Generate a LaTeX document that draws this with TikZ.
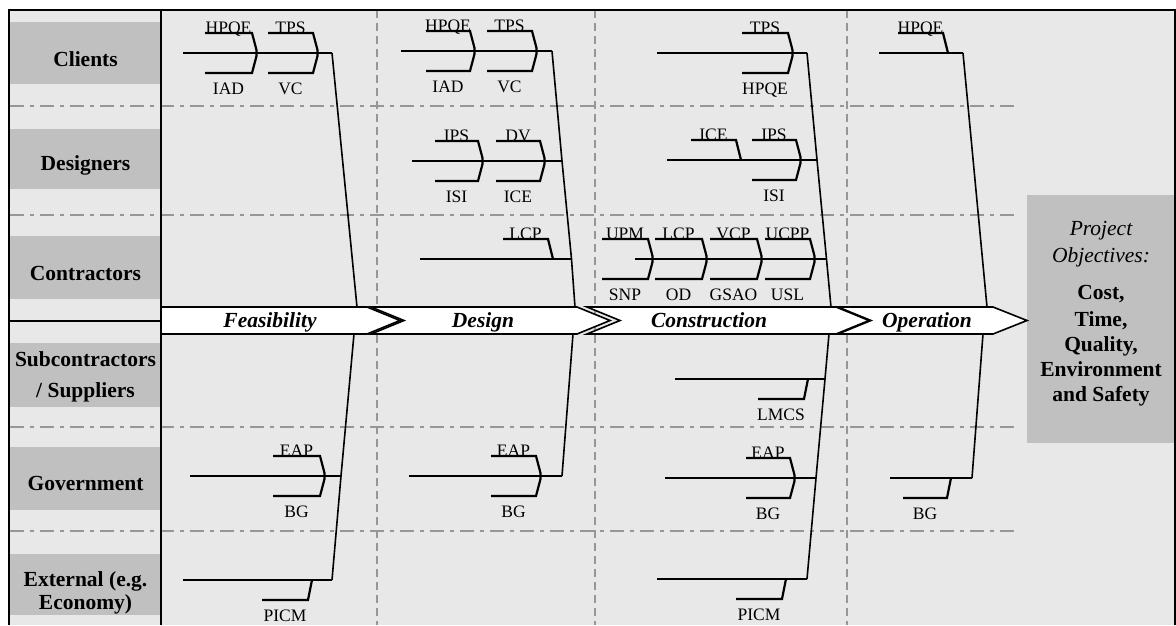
\documentclass[tikz,border=0pt]{standalone}
\usepackage{fontspec}
\setmainfont{Liberation Serif}
\definecolor{bgcol}{HTML}{E8E8E8}
\definecolor{lanegray}{HTML}{C0C0C0}
\definecolor{gridgray}{HTML}{969696}
\newcommand\lblfont{\fontsize{17.5pt}{20pt}\selectfont}
\newcommand\bigfont{\fontsize{21.5pt}{24pt}\selectfont}
\tikzset{
  branch/.style={line width=2.2pt},
  spine/.style={line width=1.6pt},
  lab/.style={font=\lblfont, anchor=base, inner sep=0pt},
  lanelab/.style={font=\bigfont\bfseries, anchor=base, inner sep=0pt},
  phaselab/.style={font=\bigfont\bfseries\itshape, anchor=base, inner sep=0pt},
  lanebox/.style={fill=lanegray, draw=none},
  hgrid/.style={draw=gridgray, line width=2.6pt, dash pattern=on 14pt off 6pt on 4pt off 6pt},
  vgrid/.style={draw=gridgray, line width=2.2pt, dash pattern=on 8pt off 5pt},
  phasebox/.style={fill=white, draw=black, line width=1.6pt, line join=miter},
  frame/.style={line width=2.4pt}
}
% pair of causes: name, x1, xr, ym, top text, bottom text
\newcommand\fbpair[6]{%
  \draw[branch] (#2,#4-20) -- (#3,#4-20) -- (#3+4.5,#4-3) -- (#3+4.5,#4+3) -- (#3,#4+20) -- (#2,#4+20);
  \node[lab] (#1t) at ({(#2+#3)/2},#4-19.5) {#5};
  \node[lab] (#1b) at ({(#2+#3)/2},#4+41.5) {#6};
}
\newcommand\fbtop[5]{%
  \draw[branch] (#2,#4-20) -- (#3,#4-20) -- (#3+5,#4);
  \node[lab] (#1) at ({(#2+#3)/2},#4-19.5) {#5};
}
\newcommand\fbbot[5]{%
  \draw[branch] (#3+4,#4) -- (#3,#4+20) -- (#2,#4+20);
  \node[lab] (#1) at ({(#2+#3)/2},#4+41) {#5};
}
\begin{document}
\begin{tikzpicture}[x=1pt,y=-1pt]
\useasboundingbox (0,0) rectangle (1176,625);
\fill[white] (0,0) rectangle (1176,625);
\fill[bgcol] (9,10) rectangle (1175,625);
% lane boxes
\fill[lanebox] (10,22) rectangle (160,84);
\fill[lanebox] (10,129) rectangle (160,189);
\fill[lanebox] (10,236) rectangle (160,299);
\fill[lanebox] (10,343) rectangle (160,407);
\fill[lanebox] (10,447) rectangle (160,510);
\fill[lanebox] (10,554) rectangle (160,615);
\fill[lanebox] (1027,195) rectangle (1175,443);
% grid lines
\foreach \yy in {106,215,427,531} \draw[hgrid] (10,\yy) -- (1019,\yy);
\foreach \xx in {377,595,847} \draw[vgrid] (\xx,10) -- (\xx,625);
% ---------- Feasibility ----------
\coordinate (FT) at (332,53);
\coordinate (FA) at (357,307);
\coordinate (FB) at (354,334);
\coordinate (FG) at (341,476);
\coordinate (FE) at (332,580);
\draw[spine] (FT) -- (FA);
\draw[spine] (FB) -- (FG) -- (FE);
\coordinate (fc0) at (183,53);
\coordinate (fg0) at (190,476);
\coordinate (fe0) at (183,580);
\draw[branch] (fc0) -- (FT);
\draw[branch] (fg0) -- (FG);
\draw[branch] (fe0) -- (FE);
\fbpair{fc1}{205}{252}{53}{HPQE}{IAD}
\fbpair{fc2}{268}{313}{53}{TPS}{VC}
\fbpair{fg1}{273}{320}{476}{EAP}{BG}
\fbbot{fe1}{262}{308}{580}{PICM}
% ---------- Design ----------
\coordinate (DT) at (552,51);
\coordinate (DD) at (562,161);
\coordinate (DC) at (571.5,259);
\coordinate (DA) at (575,307);
\coordinate (DB) at (573,334);
\coordinate (DG) at (562,476);
\draw[spine] (DT) -- (DD) -- (DC) -- (DA);
\draw[spine] (DB) -- (DG);
\coordinate (dc0) at (401,51);
\coordinate (dd0) at (412,161);
\coordinate (dk0) at (420,259);
\coordinate (dg0) at (409,476);
\draw[branch] (dc0) -- (DT);
\draw[branch] (dd0) -- (DD);
\draw[branch] (dk0) -- (DC);
\draw[branch] (dg0) -- (DG);
\fbpair{dc1}{426}{470}{51}{HPQE}{IAD}
\fbpair{dc2}{487}{532}{51}{TPS}{VC}
\fbpair{dd1}{435}{478}{161}{IPS}{ISI}
\fbpair{dd2}{496}{540}{161}{DV}{ICE}
\fbtop{dk1}{503}{548}{259}{LCP}
\fbpair{dg1}{491}{536}{476}{EAP}{BG}
% ---------- Construction ----------
\coordinate (CT) at (807,53);
\coordinate (CD) at (817,160);
\coordinate (CC) at (826.5,259);
\coordinate (CA) at (831,307);
\coordinate (CB) at (829,334);
\coordinate (CS) at (825,379);
\coordinate (CG) at (816,478);
\coordinate (CE) at (807,579);
\draw[spine] (CT) -- (CD) -- (CC) -- (CA);
\draw[spine] (CB) -- (CS) -- (CG) -- (CE);
\coordinate (cc0) at (657,53);
\coordinate (cd0) at (667,160);
\coordinate (ck0) at (635,259);
\coordinate (cs0) at (675,379);
\coordinate (cg0) at (665,478);
\coordinate (ce0) at (657,579);
\draw[branch] (cc0) -- (CT);
\draw[branch] (cd0) -- (CD);
\draw[branch] (ck0) -- (CC);
\draw[branch] (cs0) -- (CS);
\draw[branch] (cg0) -- (CG);
\draw[branch] (ce0) -- (CE);
\fbpair{cc1}{742}{788}{53}{TPS}{HPQE}
\fbtop{cd1}{691}{736}{160}{ICE}
\fbpair{cd2}{752}{796}{160}{IPS}{ISI}
\fbpair{ck1}{602}{648}{259}{UPM}{SNP}
\fbpair{ck2}{655}{702}{259}{LCP}{OD}
\fbpair{ck3}{710}{757}{259}{VCP}{GSAO}
\fbpair{ck4}{765}{810}{259}{UCPP}{USL}
\fbbot{cs1}{758}{804}{379}{LMCS}
\fbpair{cg1}{746}{790}{478}{EAP}{BG}
\fbbot{ce1}{736}{782}{579}{PICM}
% ---------- Operation ----------
\coordinate (OT) at (963,53);
\coordinate (OA) at (987,307);
\coordinate (OB) at (983,334);
\coordinate (OG) at (972,478);
\draw[spine] (OT) -- (OA);
\draw[spine] (OB) -- (OG);
\coordinate (oc0) at (879,53);
\coordinate (og0) at (890,478);
\draw[branch] (oc0) -- (OT);
\draw[branch] (og0) -- (OG);
\fbtop{oc1}{898}{943}{53}{HPQE}
\fbbot{og1}{903}{947}{478}{BG}
% ---------- phase arrows ----------
\draw[phasebox] (161,307) -- (367,307) -- (400,320.5) -- (367,334) -- (161,334) -- cycle;
\draw[phasebox] (371,307) -- (577,307) -- (610,320.5) -- (577,334) -- (371,334) -- (404,320.5) -- cycle;
\draw[phasebox] (587,307) -- (836,307) -- (869,320.5) -- (836,334) -- (587,334) -- (620,320.5) -- cycle;
\draw[phasebox] (838,307) -- (993,307) -- (1027,320.5) -- (993,334) -- (838,334) -- (871,320.5) -- cycle;
\node[phaselab] (pF) at (270,327.5) {Feasibility};
\node[phaselab] (pD) at (483,327.5) {Design};
\node[phaselab] (pC) at (709,327.5) {Construction};
\node[phaselab] (pO) at (927,327.5) {Operation};
% ---------- frame ----------
\draw[frame] (9,625) -- (9,10) -- (1175,10) -- (1175,625);
\draw[frame] (161,10) -- (161,625);
\draw[frame] (9,321) -- (161,321);
% ---------- lane labels ----------
\node[lanelab] (lC) at (85.5,66.5) {Clients};
\node[lanelab] (lD) at (85.5,170) {Designers};
\node[lanelab] (lK) at (85.5,280) {Contractors};
\node[lanelab] (lS1) at (85.5,366) {Subcontractors};
\node[lanelab] (lS2) at (85.5,397) {/ Suppliers};
\node[lanelab] (lG) at (85.5,490) {Government};
\node[lanelab] (lE1) at (85.5,586) {External (e.g.};
\node[lanelab] (lE2) at (85.5,609) {Economy)};
% ---------- objectives ----------
\node[phaselab, font=\bigfont\itshape] (o1) at (1101,235) {Project};
\node[phaselab, font=\bigfont\itshape] (o2) at (1101,262.5) {Objectives:};
\node[lanelab] (o3) at (1101,299) {Cost,};
\node[lanelab] (o4) at (1101,326) {Time,};
\node[lanelab] (o5) at (1101,351) {Quality,};
\node[lanelab] (o6) at (1101,376) {Environment};
\node[lanelab] (o7) at (1101,401) {and Safety};
\end{tikzpicture}
\end{document}
